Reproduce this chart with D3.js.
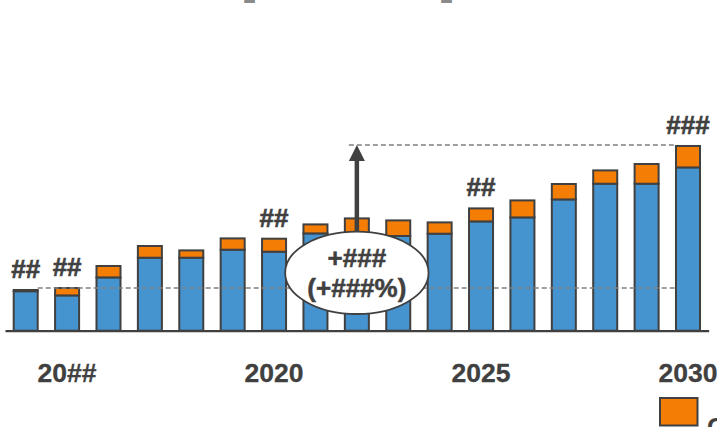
<!DOCTYPE html>
<html>
<head>
<meta charset="utf-8">
<script src="https://cdn.jsdelivr.net/npm/d3@7"></script>
<style>
  html, body { margin: 0; padding: 0; background: #fff; }
  svg { display: block; font-family: "Liberation Sans", Arial, sans-serif; font-weight: bold; }
</style>
</head>
<body>
<svg id="chart" width="717" height="427"></svg>
<script>
// Years on the category axis
const years = [2014, 2015, 2016, 2017, 2018, 2019, 2020, 2021, 2022,
               2023, 2024, 2025, 2026, 2027, 2028, 2029, 2030];
// Base (blue) and added (orange) segment of each stacked bar
const baseValues  = [39.5, 35.3, 53.3, 73.0, 73.0, 81.0, 79.0, 97.3, 97.0,
                     94.7, 97.0, 109.3, 113.3, 131.3, 147.0, 147.0, 163.3];
const addedValues = [1.2, 7.4, 11.4, 11.7, 7.3, 11.3, 13.0, 9.0, 15.3,
                     15.6, 11.3, 13.0, 17.0, 15.4, 13.3, 19.7, 21.4];
// Value labels written above selected bars
const barLabels = ["##", "##", null, null, null, null, "##", null, null,
                   null, null, "##", null, null, null, null, "###"];
// Axis ticks
const tickYears  = [2015, 2020, 2025, 2030];
const tickLabels = ["20##", "2020", "2025", "2030"];
// Growth callout
const calloutLines = ["+###", "(+###%)"];
const calloutYear = 2022;
const refYear = 2015, targetYear = 2030;
// Legend
const legendLabel = "Change";

const BLUE = "#4594d0", ORANGE = "#f47d06", INK = "#404040";

const svg = d3.select("#chart");

const x = d3.scaleBand()
  .domain(years)
  .range([5, 708.7])
  .paddingInner(0.42)
  .paddingOuter(0.21);

const y = d3.scaleLinear().domain([0, 200]).range([330.7, 130.7]);

const rows = years.map((yr, i) => ({
  year: yr, base: baseValues[i], added: addedValues[i],
  total: baseValues[i] + addedValues[i], label: barLabels[i]
}));
const byYear = new Map(rows.map(d => [d.year, d]));

// Title brackets (run off the top edge)
const title = svg.append("g").attr("fill", "#8a8a8a").attr("font-size", 40);
title.append("text").attr("x", 242).attr("y", -5.5).text("[");
title.append("text").attr("x", 454).attr("y", -5.5).attr("text-anchor", "end").text("]");

// Stacked bars
const bars = svg.append("g").attr("stroke", INK).attr("stroke-width", 2);
bars.selectAll("rect.base").data(rows).join("rect")
  .attr("class", "base")
  .attr("x", d => x(d.year))
  .attr("width", x.bandwidth())
  .attr("y", d => y(d.base))
  .attr("height", d => y(0) - y(d.base))
  .attr("fill", BLUE);
bars.selectAll("rect.added").data(rows).join("rect")
  .attr("class", "added")
  .attr("x", d => x(d.year))
  .attr("width", x.bandwidth())
  .attr("y", d => y(d.total))
  .attr("height", d => y(d.base) - y(d.total))
  .attr("fill", ORANGE);

// Reference dashed lines
const ref = byYear.get(refYear), tgt = byYear.get(targetYear);
const cx = x(calloutYear) + x.bandwidth() / 2;
svg.append("line")
  .attr("x1", x(years[0]) + x.bandwidth()).attr("x2", x(targetYear))
  .attr("y1", y(ref.total)).attr("y2", y(ref.total))
  .attr("stroke", "#808080").attr("stroke-width", 1.6).attr("stroke-dasharray", "5,3");
svg.append("line")
  .attr("x1", cx - 8).attr("x2", x(targetYear))
  .attr("y1", y(tgt.total) - 1).attr("y2", y(tgt.total) - 1)
  .attr("stroke", "#808080").attr("stroke-width", 1.4).attr("stroke-dasharray", "5,3");

// Baseline axis
const axis = d3.axisBottom(x)
  .tickValues(tickYears)
  .tickFormat(d => tickLabels[tickYears.indexOf(d)])
  .tickSize(0);
const gAxis = svg.append("g").attr("transform", `translate(0,${y(0)})`).call(axis);
gAxis.attr("font-family", null).attr("font-size", null);
gAxis.select(".domain").attr("stroke", INK).attr("stroke-width", 2.2);
gAxis.selectAll("text")
  .attr("fill", INK).attr("font-size", 26.5)
  .attr("stroke", INK).attr("stroke-width", 0.3)
  .attr("y", 51).attr("dy", 0);

// Value labels
svg.append("g").selectAll("text").data(rows.filter(d => d.label)).join("text")
  .attr("x", d => x(d.year) + x.bandwidth() / 2)
  .attr("y", d => y(d.total) - 12)
  .attr("text-anchor", "middle")
  .attr("font-size", 26)
  .attr("fill", INK).attr("stroke", INK).attr("stroke-width", 0.6)
  .text(d => d.label);

// Growth arrow and callout
const ellCy = 272.8, ellRy = 41.2, ellRx = 71.7;
const arrowTop = y(tgt.total) - 1;
svg.append("line")
  .attr("x1", cx).attr("x2", cx)
  .attr("y1", ellCy - ellRy + 2).attr("y2", arrowTop + 14)
  .attr("stroke", INK).attr("stroke-width", 4.5);
svg.append("path")
  .attr("d", `M${cx},${arrowTop} L${cx - 8},${arrowTop + 16} L${cx + 8},${arrowTop + 16} Z`)
  .attr("fill", INK);
svg.append("ellipse")
  .attr("cx", cx).attr("cy", ellCy).attr("rx", ellRx).attr("ry", ellRy)
  .attr("fill", "#fff").attr("stroke", INK).attr("stroke-width", 1.8);
svg.append("text")
  .attr("text-anchor", "middle").attr("fill", INK).attr("font-size", 26)
  .attr("stroke", INK).attr("stroke-width", 0.5)
  .selectAll("tspan").data(calloutLines).join("tspan")
  .attr("x", cx)
  .attr("y", (d, i) => 267 + i * 29.5)
  .text(d => d);

// Legend
const legend = svg.append("g");
legend.append("rect")
  .attr("x", 660).attr("y", 398).attr("width", 37.5).attr("height", 27.5)
  .attr("fill", ORANGE).attr("stroke", INK).attr("stroke-width", 2);
legend.append("text")
  .attr("x", 707).attr("y", 436).attr("font-size", 26).attr("fill", INK)
  .text(legendLabel);
</script>
</body>
</html>
